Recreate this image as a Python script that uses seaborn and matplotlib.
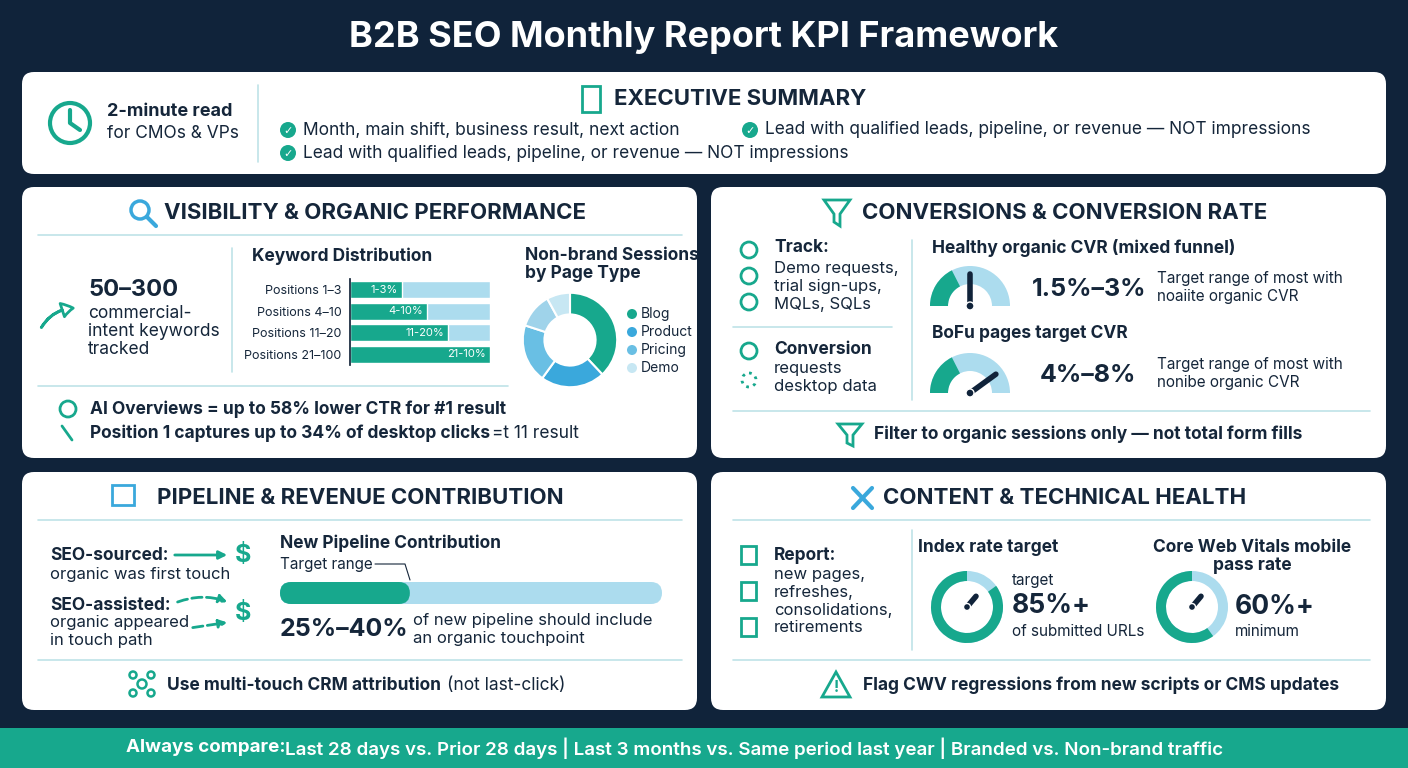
import matplotlib
matplotlib.use("Agg")
import matplotlib.pyplot as plt
import seaborn as sns
import pandas as pd
import numpy as np
from matplotlib.patches import FancyBboxPatch, Wedge, Circle, Rectangle, FancyArrowPatch

sns.set_theme(style="white")
plt.rcParams['font.family'] = ['Inter', 'DejaVu Sans']

# ---------------- data ----------------
title = "B2B SEO Monthly Report KPI Framework"
kw_labels = ["Positions 1–3", "Positions 4–10", "Positions 11–20", "Positions 21–100"]
kw_fill = [37, 55, 70, 100]          # share of bar filled
kw_text = ["1-3%", "4-10%", "11-20%", "21-10%"]
donut_labels = ["Blog", "Product", "Pricing", "Pricing", "Demo"]
donut_values = [38, 22, 20, 12, 8]
legend_labels = ["Blog", "Product", "Pricing", "Demo"]
cvr_gauges = [0.5, 0.80]             # needle position on half gauges
index_rate = 85
cwv_rate = 60
pipeline_fill = 34                   # percent of bar filled to target marker

NAVY = "#10233a"
TEAL = "#17a88d"
LBLUE = "#acdcee"
BLUE = "#3aa8dc"
MBLUE = "#69bfe4"
TXT = "#15263a"
LINE = "#bfe3e8"

fig = plt.figure(figsize=(14.08, 7.68), dpi=100)
fig.patch.set_facecolor(NAVY)
ax = fig.add_axes([0, 0, 1, 1])
ax.set_xlim(0, 1408); ax.set_ylim(768, 0); ax.axis("off")

def card(x0, y0, x1, y1):
    ax.add_patch(FancyBboxPatch((x0, y0), x1 - x0, y1 - y0, boxstyle="round,pad=0,rounding_size=12",
                                fc="white", ec="none", zorder=1))

def t(x, y, s, size=12, weight="normal", ha="left", color=TXT, va="center"):
    ax.text(x, y, s, fontsize=size, fontweight=weight, ha=ha, va=va, color=color, zorder=5)

def hline(y, x0, x1):
    ax.plot([x0, x1], [y, y], color=LINE, lw=1.2, zorder=2)

def vline(x, y0, y1):
    ax.plot([x, x], [y0, y1], color=LINE, lw=1.2, zorder=2)

def check(x, y):
    ax.add_patch(Circle((x, y), 8, fc=TEAL, ec="none", zorder=4))
    ax.text(x, y + 1, "✓", fontsize=8, color="white", ha="center", va="center", weight="bold",
            family="DejaVu Sans", zorder=5)

def half_gauge(cx, cy, r, frac):
    ax.add_patch(Wedge((cx, cy), r, 180, 360, width=r * 0.45, fc=LBLUE, ec="none", zorder=3))
    ax.add_patch(Wedge((cx, cy), r, 180, 180 + 180 * 0.35, width=r * 0.45, fc=TEAL, ec="none", zorder=3))
    ang = np.deg2rad(180 + 180 * frac)
    ax.plot([cx, cx + 0.8 * r * np.cos(ang)], [cy, cy + 0.8 * r * np.sin(ang)], color=NAVY, lw=4,
            solid_capstyle="round", zorder=4)
    ax.add_patch(Circle((cx, cy), 4, fc=NAVY, zorder=4))

def ring(cx, cy, r, pct):
    ax.add_patch(Wedge((cx, cy), r, 0, 360, width=10, fc=LBLUE, ec="none", zorder=3))
    ax.add_patch(Wedge((cx, cy), r, 270 - 360 * pct / 100 + 360, 270 + 360, width=10, fc=TEAL, ec="none", zorder=3))
    ang = np.deg2rad(-50)
    ax.plot([cx, cx + 14 * np.cos(ang)], [cy, cy + 14 * np.sin(ang)], color=NAVY, lw=4,
            solid_capstyle="round", zorder=4)
    ax.add_patch(Circle((cx, cy), 3.5, fc=NAVY, zorder=4))

# title
t(704, 37, title, size=26, weight="bold", ha="center", color="white")

# cards
card(22, 72, 1386, 174)
card(22, 187, 697, 458)
card(711, 187, 1386, 458)
card(22, 472, 697, 710)
card(711, 472, 1386, 710)

# ---- executive summary ----
ax.add_patch(Circle((70, 123), 20, fc="none", ec=TEAL, lw=3, zorder=4))
ax.plot([70, 70, 80], [110, 123, 130], color=TEAL, lw=3, zorder=4)
t(107, 112, "2-minute read", 13, "bold")
t(107, 133, "for CMOs & VPs", 12.5)
vline(258, 85, 162)
ax.add_patch(Rectangle((582, 86), 18, 26, fc="none", ec=TEAL, lw=2, zorder=4))
t(740, 99, "EXECUTIVE SUMMARY", 16, "bold", ha="center")
check(288, 130); t(303, 130, "Month, main shift, business result, next action", 12.5)
check(750, 130); t(765, 130, "Lead with qualified leads, pipeline, or revenue — NOT impressions", 12.5)
check(288, 153); t(303, 153, "Lead with qualified leads, pipeline, or revenue — NOT impressions", 12.5)

# ---- visibility ----
ax.add_patch(Circle((140, 210), 9, fc="none", ec=BLUE, lw=2.5, zorder=4))
ax.plot([147, 156], [217, 226], color=BLUE, lw=3, zorder=4)
t(375, 213, "VISIBILITY & ORGANIC PERFORMANCE", 16, "bold", ha="center")
hline(235, 38, 682)
ax.add_patch(FancyArrowPatch((40, 330), (76, 308), connectionstyle="arc3,rad=-0.3", arrowstyle="simple,head_width=10,head_length=8",
                             fc="white", ec=TEAL, lw=2, zorder=4))
t(88, 290, "50–300", 17, "bold")
t(88, 313, "commercial-", 12.5); t(88, 331, "intent keywords", 12.5); t(88, 349, "tracked", 12.5)
vline(232, 248, 372)
t(252, 256, "Keyword Distribution", 12.5, "bold")

bax = fig.add_axes([350 / 1408, 1 - 365 / 768, 140 / 1408, 86 / 768])
df = pd.DataFrame({"label": kw_labels, "fill": kw_fill, "txt": kw_text})
sns.barplot(data=df, y="label", x=[100] * 4, color=LBLUE, ax=bax, width=0.78, saturation=1)
sns.barplot(data=df, y="label", x="fill", color=TEAL, ax=bax, width=0.78, saturation=1)
for i, (f, s) in enumerate(zip(kw_fill, kw_text)):
    bax.text(f - 3, i, s, ha="right", va="center", color="white", fontsize=8)
bax.set_xlim(0, 100); bax.set_xlabel(""); bax.set_ylabel("")
bax.set_xticks([])
bax.tick_params(axis="y", length=0, labelsize=9, colors=TXT, pad=6)
for sp in ["top", "right", "bottom"]:
    bax.spines[sp].set_visible(False)
bax.spines["left"].set_color(TXT)

t(525, 256, "Non-brand Sessions", 12.5, "bold")
t(525, 274, "by Page Type", 12.5, "bold")
dax = fig.add_axes([(570 - 48) / 1408, 1 - (340 + 48) / 768, 96 / 1408, 96 / 768])
dax.pie(donut_values, colors=[TEAL, BLUE, MBLUE, "#9fd3ea", "#c7e7f3"], startangle=90, counterclock=False,
        radius=1.2, wedgeprops=dict(width=0.55, edgecolor="white", linewidth=1.5))
dax.set_xlim(-1.22, 1.22); dax.set_ylim(-1.22, 1.22)
dax.set_aspect("equal")
for i, (lab, c) in enumerate(zip(legend_labels, [TEAL, BLUE, MBLUE, "#c7e7f3"])):
    ax.add_patch(Circle((632, 314 + i * 18), 5, fc=c, ec="none", zorder=4))
    t(641, 314 + i * 18, lab, 10)

hline(386, 38, 508)
ax.add_patch(Circle((68, 409), 8, fc="none", ec=TEAL, lw=2, zorder=4))
t(90, 409, "AI Overviews = up to 58% lower CTR for #1 result", 12.5, "bold")
ax.plot([62, 72], [426, 440], color=TEAL, lw=2, zorder=4)
t(90, 433, "Position 1 captures up to 34% of desktop clicks", 12.5, "bold")
t(492, 433, "=t 11 result", 12.5)

# ---- conversions ----
ax.add_patch(plt.Polygon([[824, 200], [850, 200], [840, 214], [840, 226], [834, 222], [834, 214]], closed=True,
                         fc="none", ec=TEAL, lw=2, zorder=4))
t(1065, 213, "CONVERSIONS & CONVERSION RATE", 16, "bold", ha="center")
t(774, 248, "Track:", 12.5, "bold")
for i, s in enumerate(["Demo requests,", "trial sign-ups,", "MQLs, SQLs"]):
    t(774, 268 + i * 18, s, 12)
    ax.add_patch(Circle((749, 250 + i * 26), 8, fc="none", ec=TEAL, lw=2, zorder=4))
hline(327, 733, 892)
t(774, 349, "Conversion", 12.5, "bold"); t(774, 368, "requests", 12); t(774, 386, "desktop data", 12)
ax.add_patch(Circle((749, 351), 8, fc="none", ec=TEAL, lw=2, zorder=4))
ax.add_patch(Circle((749, 380), 7, fc="none", ec=TEAL, lw=2, ls=":", zorder=4))
vline(912, 240, 400)
t(932, 248, "Healthy organic CVR (mixed funnel)", 12.5, "bold")
half_gauge(970, 306, 40, cvr_gauges[0])
t(1032, 290, "1.5%–3%", 18, "bold")
t(1157, 279, "Target range of most with", 11); t(1157, 296, "noaiite organic CVR", 11)
t(932, 333, "BoFu pages target CVR", 12.5, "bold")
half_gauge(970, 393, 40, cvr_gauges[1])
t(1040, 376, "4%–8%", 18, "bold")
t(1157, 365, "Target range of most with", 11); t(1157, 382, "nonibe organic CVR", 11)
hline(411, 733, 1370)
ax.add_patch(plt.Polygon([[838, 424], [862, 424], [853, 435], [853, 446], [847, 443], [847, 435]], closed=True,
                         fc="none", ec=TEAL, lw=2, zorder=4))
t(874, 434, "Filter to organic sessions only — not total form fills", 12.5, "bold")

# ---- pipeline ----
ax.add_patch(Rectangle((112, 485), 22, 20, fc="none", ec=BLUE, lw=2, zorder=4))
t(360, 498, "PIPELINE & REVENUE CONTRIBUTION", 16, "bold", ha="center")
hline(520, 38, 682)
t(50, 555, "SEO-sourced:", 12.5, "bold"); t(50, 574, "organic was first touch", 12)
ax.annotate("", xy=(230, 555), xytext=(172, 555), arrowprops=dict(arrowstyle="-|>", color=TEAL, lw=2), zorder=4)
t(243, 555, "$", 18, "bold", ha="center", color=TEAL)
t(50, 605, "SEO-assisted:", 12.5, "bold"); t(50, 623, "organic appeared", 12); t(50, 641, "in touch path", 12)
ax.annotate("", xy=(230, 603), xytext=(175, 603), arrowprops=dict(arrowstyle="-|>", color=TEAL, lw=2, ls="--",
            connectionstyle="arc3,rad=-0.2"), zorder=4)
ax.annotate("", xy=(230, 622), xytext=(190, 628), arrowprops=dict(arrowstyle="-|>", color=TEAL, lw=2, ls="--"), zorder=4)
t(243, 614, "$", 18, "bold", ha="center", color=TEAL)
t(280, 543, "New Pipeline Contribution", 12.5, "bold")
t(280, 564, "Target range", 11)
ax.plot([375, 405, 410], [564, 564, 580], color=TXT, lw=0.8, zorder=4)
bx0, bx1 = 280, 662
ax.add_patch(FancyBboxPatch((bx0, 582), bx1 - bx0, 22, boxstyle="round,pad=0,rounding_size=11", fc=LBLUE, ec="none", zorder=3))
ax.add_patch(FancyBboxPatch((bx0, 582), (bx1 - bx0) * pipeline_fill / 100, 22, boxstyle="round,pad=0,rounding_size=11",
                            fc=TEAL, ec="none", zorder=3))
t(280, 630, "25%–40%", 18, "bold")
t(413, 620, "of new pipeline should include", 12); t(413, 638, "an organic touchpoint", 12)
hline(660, 38, 682)
for (dx, dy) in [(0, 0), (-9, -9), (9, -9), (-9, 9), (9, 9)]:
    ax.add_patch(Circle((142 + dx, 684 + dy), 3.5 if dx else 4.5, fc="white", ec=TEAL, lw=1.8, zorder=4))
t(167, 685, "Use multi-touch CRM attribution", 12.5, "bold")
t(447, 685, "(not last-click)", 12.5)

# ---- content ----
ax.plot([853, 872], [508, 488], color=BLUE, lw=3, zorder=4)
ax.plot([853, 872], [488, 508], color=BLUE, lw=3, zorder=4)
t(1065, 498, "CONTENT & TECHNICAL HEALTH", 16, "bold", ha="center")
hline(520, 733, 1370)
t(774, 555, "Report:", 12.5, "bold")
for i, s in enumerate(["new pages,", "refreshes,", "consolidations,", "retirements"]):
    t(774, 574 + i * 18, s, 12)
for i in range(3):
    ax.add_patch(Rectangle((741, 546 + i * 36), 15, 18, fc="none", ec=TEAL, lw=2, zorder=4))
vline(912, 530, 650)
t(988, 547, "Index rate target", 12.5, "bold", ha="center")
ring(967, 607, 36, index_rate)
t(1012, 580, "target", 11)
t(1012, 606, f"{index_rate}%+", 19, "bold")
t(1012, 632, "of submitted URLs", 11)
t(1252, 547, "Core Web Vitals mobile", 12.5, "bold", ha="center")
t(1252, 566, "pass rate", 12.5, "bold", ha="center")
ring(1192, 607, 36, cwv_rate)
t(1235, 607, f"{cwv_rate}%+", 19, "bold")
t(1235, 632, "minimum", 11)
hline(660, 733, 1370)
ax.add_patch(plt.Polygon([[836, 672], [822, 697], [850, 697]], closed=True, fc="none", ec=TEAL, lw=2, zorder=4))
t(836, 688, "!", 11, "bold", ha="center", color=TEAL)
t(863, 685, "Flag CWV regressions from new scripts or CMS updates", 12.5, "bold")

# ---- footer ----
ax.add_patch(Rectangle((0, 728), 1408, 40, fc=TEAL, ec="none", zorder=1))
t(126, 748, "Always compare:", 13.5, "bold", color="white")
t(285, 748, "Last 28 days vs. Prior 28 days | Last 3 months vs. Same period last year | Branded vs. Non-brand traffic",
  13.5, "semibold", color="white")

fig.savefig("out.png", dpi=100, facecolor=NAVY)
